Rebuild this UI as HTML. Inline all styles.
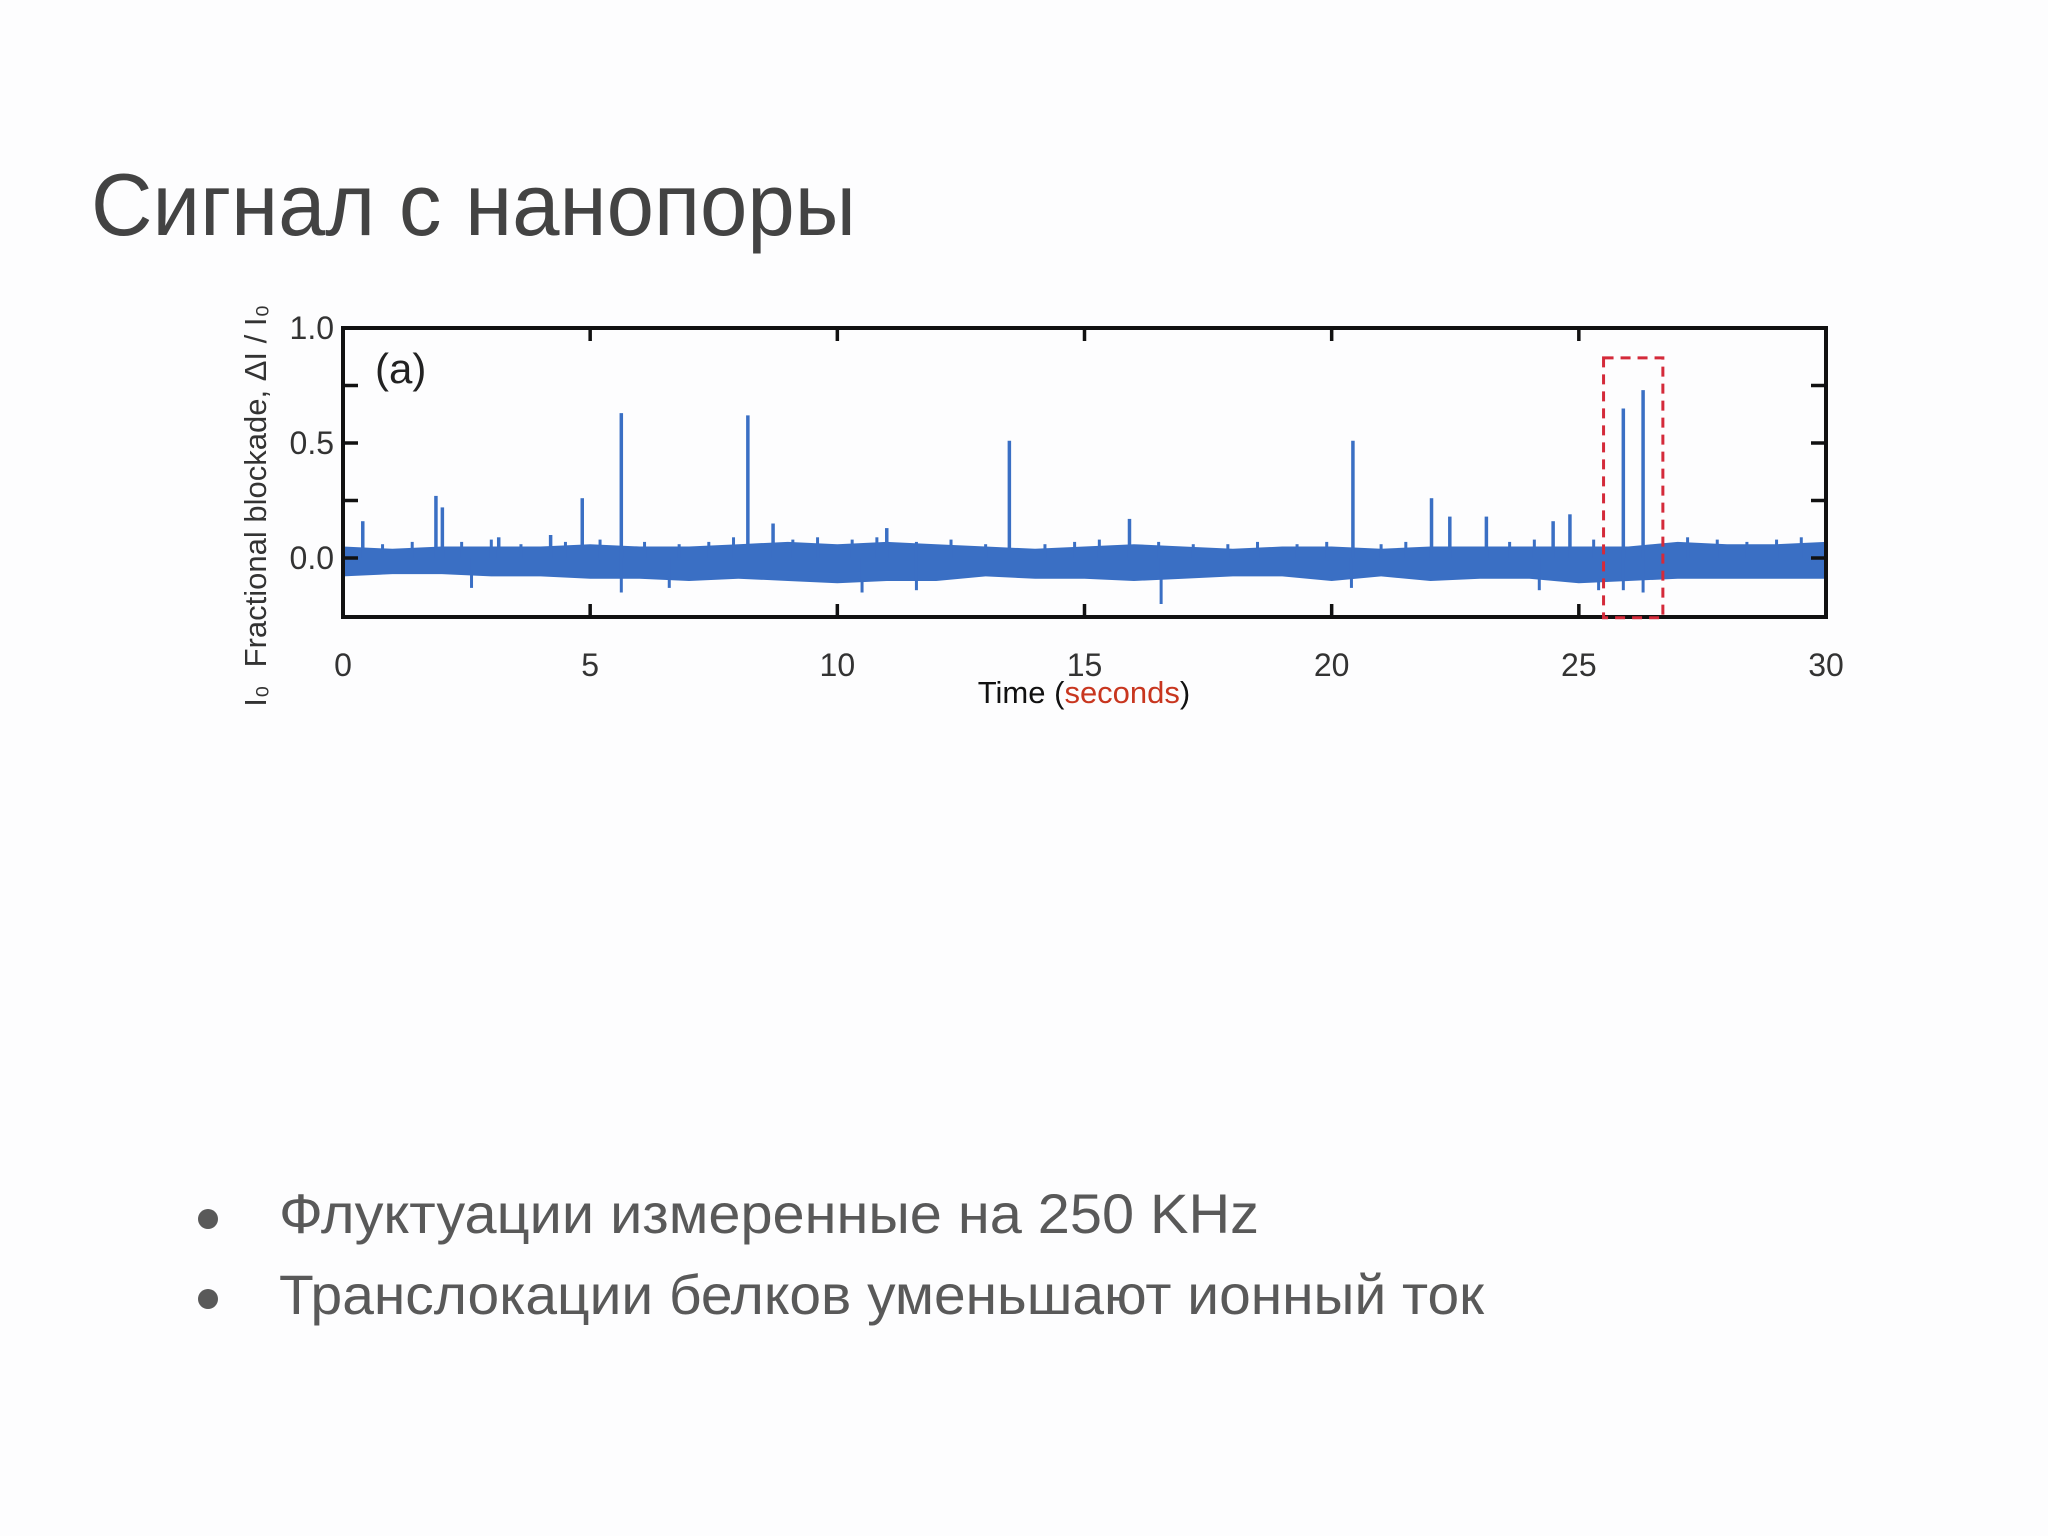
<!DOCTYPE html>
<html><head><meta charset="utf-8"><style>
html,body{margin:0;padding:0;background:#fdfdfe;}
svg{display:block;}
text{font-family:"Liberation Sans","DejaVu Sans",sans-serif;}
</style></head><body>
<svg id="slide" width="2048" height="1536" viewBox="0 0 2048 1536" xmlns="http://www.w3.org/2000/svg">
<rect x="0" y="0" width="2048" height="1536" fill="#fdfdfe"/>
<text x="91" y="235" font-size="88" fill="#434343" textLength="765" lengthAdjust="spacingAndGlyphs">Сигнал с нанопоры</text>
<g id="chart"></g>
<circle cx="208" cy="1219" r="10" fill="#595959"/>
<circle cx="208" cy="1299" r="10" fill="#595959"/>
<text x="279" y="1233" font-size="56" fill="#595959" textLength="980" lengthAdjust="spacingAndGlyphs">Флуктуации измеренные на 250 KHz</text>
<text x="279" y="1314" font-size="56" fill="#595959" textLength="1205" lengthAdjust="spacingAndGlyphs">Транслокации белков уменьшают ионный ток</text>
</svg>
<script>
const xTicks = [0,5,10,15,20,25,30];
const xTickLabels = ["0","5","10","15","20","25","30"];
const yTicks = [0,0.5,1.0];
const yTickLabels = ["0.0","0.5","1.0"];
const yMinorTicks = [0.25,0.75];
const envTimes = [0,1,2,3,4,5,6,7,8,9,10,11,12,13,14,15,16,17,18,19,20,21,22,23,24,25,26,27,28,29,30];
const envUpper = [0.05,0.04,0.05,0.05,0.05,0.06,0.05,0.05,0.06,0.07,0.06,0.07,0.06,0.05,0.04,0.05,0.06,0.05,0.04,0.05,0.05,0.04,0.05,0.05,0.05,0.05,0.05,0.07,0.06,0.06,0.07];
const envLower = [-0.08,-0.07,-0.07,-0.08,-0.08,-0.09,-0.09,-0.10,-0.09,-0.10,-0.11,-0.10,-0.10,-0.08,-0.09,-0.09,-0.10,-0.09,-0.08,-0.08,-0.10,-0.08,-0.10,-0.09,-0.09,-0.11,-0.10,-0.09,-0.09,-0.09,-0.09];
const spikeTimes = [0.4,1.88,2.01,3.15,4.2,4.84,5.63,8.19,8.7,11.0,13.48,15.91,20.43,22.02,22.39,23.13,24.48,24.82,25.9,26.3];
const spikeValues = [0.16,0.27,0.22,0.09,0.10,0.26,0.63,0.62,0.15,0.13,0.51,0.17,0.51,0.26,0.18,0.18,0.16,0.19,0.65,0.73];
const noiseTimes = [0.8,1.4,2.4,3.0,3.6,4.5,5.2,6.1,6.8,7.4,7.9,9.1,9.6,10.3,10.8,11.6,12.3,13.0,14.2,14.8,15.3,16.5,17.2,17.9,18.5,19.3,19.9,21.0,21.5,23.6,24.1,25.3,27.2,27.8,28.4,29.0,29.5];
const noiseValues = [0.06,0.07,0.07,0.08,0.06,0.07,0.08,0.07,0.06,0.07,0.09,0.08,0.09,0.08,0.09,0.07,0.08,0.06,0.06,0.07,0.08,0.07,0.06,0.06,0.07,0.06,0.07,0.06,0.07,0.07,0.08,0.08,0.09,0.08,0.07,0.08,0.09];
const negSpikeTimes = [2.6,5.63,6.6,10.5,11.6,16.55,20.4,24.2,25.4,25.9,26.3];
const negSpikeValues = [-0.13,-0.15,-0.13,-0.15,-0.14,-0.20,-0.13,-0.14,-0.14,-0.14,-0.15];
const highlightRange = [25.5,26.7];
const highlightY = [0.87,-0.26];

const NS="http://www.w3.org/2000/svg";
const L=343,R=1826,T=328,B=617;
const xS=v=>L+(v-0)/(30-0)*(R-L);
const yS=v=>558-(v)*230;
const g=document.getElementById('chart');
function mk(tag,attrs,parent){const e=document.createElementNS(NS,tag);for(const k in attrs)e.setAttribute(k,attrs[k]);(parent||g).appendChild(e);return e;}

let d="M"+xS(envTimes[0])+","+yS(envUpper[0]);
for(let i=1;i<envTimes.length;i++)d+=" L"+xS(envTimes[i])+","+yS(envUpper[i]);
for(let i=envTimes.length-1;i>=0;i--)d+=" L"+xS(envTimes[i])+","+yS(envLower[i]);
d+="Z";
const band=mk('path',{d:d,fill:'#3a6fc4'});



noiseTimes.forEach((t,i)=>{
  const s=mk('line',{x1:xS(t),x2:xS(t),y1:yS(0),y2:yS(noiseValues[i]),stroke:'#3a6fc4','stroke-width':3});
  
  
});
spikeTimes.forEach((t,i)=>{
  const s=mk('line',{x1:xS(t),x2:xS(t),y1:yS(0),y2:yS(spikeValues[i]),stroke:'#3a6fc4','stroke-width':3.5});
  
  
});
negSpikeTimes.forEach((t,i)=>{
  const s=mk('line',{x1:xS(t),x2:xS(t),y1:yS(0),y2:yS(negSpikeValues[i]),stroke:'#3a6fc4','stroke-width':3});
  
  
});

const fr=mk('rect',{x:L,y:T,width:R-L,height:B-T,fill:'none',stroke:'#111','stroke-width':4});



xTicks.forEach((v,i)=>{
  if(v>0&&v<30){
    const t1=mk('line',{x1:xS(v),x2:xS(v),y1:T,y2:T+13,stroke:'#111','stroke-width':3.5});
    
    
    const t2=mk('line',{x1:xS(v),x2:xS(v),y1:B,y2:B-13,stroke:'#111','stroke-width':3.5});
    
    
  }
  const lb=mk('text',{x:xS(v),y:676,'font-size':32,fill:'#333','text-anchor':'middle'});
  lb.textContent=xTickLabels[i];
  
  
});
yTicks.concat(yMinorTicks).forEach(v=>{
  if(v>=1)return;
  const t1=mk('line',{x1:L,x2:L+15,y1:yS(v),y2:yS(v),stroke:'#111','stroke-width':3.5});
  
  
  const t2=mk('line',{x1:R,x2:R-15,y1:yS(v),y2:yS(v),stroke:'#111','stroke-width':3.5});
  
  
});
yTicks.forEach((v,i)=>{
  const lb=mk('text',{x:334,y:yS(v)+11,'font-size':32,fill:'#333','text-anchor':'end'});
  lb.textContent=yTickLabels[i];
  
  
});

const hb=mk('rect',{x:xS(highlightRange[0]),y:yS(highlightY[0]),width:xS(highlightRange[1])-xS(highlightRange[0]),height:yS(highlightY[1])-yS(highlightY[0]),fill:'none',stroke:'#d42a3a','stroke-width':3,'stroke-dasharray':'10,7'});



const pl=mk('text',{x:375,y:383,'font-size':42,fill:'#222'});
pl.textContent='(a)';



const xt=mk('text',{x:1084,y:703,'font-size':31,fill:'#111','text-anchor':'middle'});


const a=document.createElementNS(NS,'tspan');a.textContent='Time (';xt.appendChild(a);
const b=document.createElementNS(NS,'tspan');b.textContent='seconds';b.setAttribute('fill','#c8361f');xt.appendChild(b);
const c=document.createElementNS(NS,'tspan');c.textContent=')';xt.appendChild(c);

const yt=mk('text',{x:0,y:0,'font-size':31,fill:'#333','text-anchor':'middle',transform:'translate(266,486) rotate(-90)'});
yt.textContent='Fractional blockade, ΔI / I₀';


const yt2=mk('text',{x:0,y:0,'font-size':31,fill:'#333','text-anchor':'middle',transform:'translate(266,696) rotate(-90)'});
yt2.textContent='I₀';


</script>
</body></html>
